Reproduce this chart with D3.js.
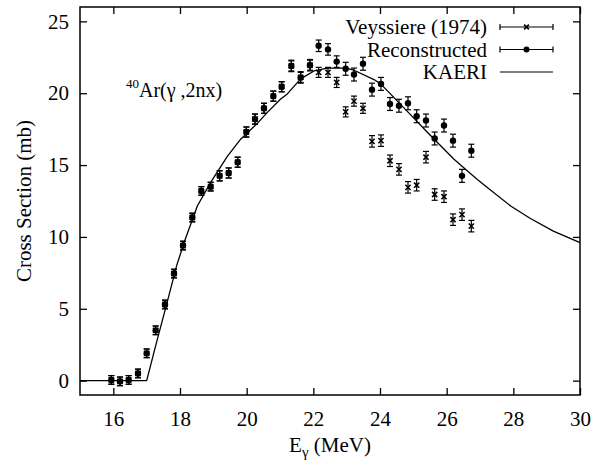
<!DOCTYPE html>
<html><head><meta charset="utf-8">
<script src="https://cdn.jsdelivr.net/npm/d3@7"></script>
<style>
body{margin:0;background:#fff;}
svg{display:block;}
svg text{font-family:"Liberation Serif","Times New Roman","DejaVu Serif",Times,serif !important;fill:#000;}
</style></head>
<body><svg id="c" width="598" height="466"></svg>
<script>
const energies = [15.94, 16.20, 16.46, 16.74, 17.00, 17.27, 17.55, 17.82, 18.09, 18.37, 18.64, 18.92, 19.19, 19.46, 19.73, 19.99, 20.25, 20.52, 20.80, 21.05, 21.34, 21.62, 21.90, 22.16, 22.44, 22.70, 22.97, 23.22, 23.49, 23.76, 24.03, 24.30, 24.57, 24.84, 25.10, 25.38, 25.64, 25.92, 26.19, 26.46, 26.74];
const veyssiere = [0.05, -0.05, 0.05, 0.5, 1.9, 3.5, 5.3, 7.45, 9.4, 11.35, 13.2, 13.5, 14.25, 14.45, 15.2, 17.3, 18.2, 18.95, 19.8, 20.45, 21.9, 21.1, 21.95, 21.45, 21.45, 20.75, 18.7, 19.45, 18.95, 16.65, 16.7, 15.3, 14.7, 13.45, 13.6, 15.55, 12.95, 12.8, 11.2, 11.55, 10.75];
const veyssiereErr = [0.3, 0.3, 0.3, 0.3, 0.3, 0.3, 0.3, 0.3, 0.3, 0.3, 0.3, 0.3, 0.35, 0.35, 0.35, 0.35, 0.35, 0.35, 0.35, 0.35, 0.35, 0.35, 0.35, 0.35, 0.35, 0.35, 0.35, 0.35, 0.35, 0.4, 0.4, 0.4, 0.4, 0.4, 0.4, 0.4, 0.4, 0.4, 0.4, 0.4, 0.4];
const reconstructed = [0.05, -0.05, 0.05, 0.5, 1.9, 3.5, 5.3, 7.45, 9.4, 11.35, 13.2, 13.5, 14.25, 14.45, 15.2, 17.3, 18.2, 18.95, 19.8, 20.45, 21.9, 21.1, 21.95, 23.3, 23.05, 22.2, 21.7, 21.3, 22.05, 20.25, 20.65, 19.25, 19.13, 19.3, 18.4, 18.1, 16.85, 17.75, 16.7, 14.25, 16.0];
const reconstructedErr = [0.3, 0.3, 0.3, 0.3, 0.3, 0.3, 0.3, 0.3, 0.3, 0.3, 0.3, 0.3, 0.35, 0.35, 0.35, 0.35, 0.35, 0.35, 0.35, 0.35, 0.4, 0.4, 0.4, 0.4, 0.4, 0.4, 0.45, 0.45, 0.45, 0.45, 0.45, 0.45, 0.45, 0.45, 0.45, 0.45, 0.45, 0.45, 0.45, 0.45, 0.45];
const kaeriE = [15.0, 17.0, 17.3, 17.62, 17.9, 18.12, 18.52, 18.92, 19.42, 19.82, 20.32, 20.62, 21.02, 21.22, 21.62, 22.02, 22.42, 22.97, 23.22, 23.82, 24.02, 24.5, 25.0, 25.42, 26.22, 26.92, 27.22, 27.92, 28.5, 29.2, 30.0];
const kaeriV = [0, 0, 2.7, 5.5, 8.0, 9.6, 12.15, 13.8, 15.6, 16.8, 17.9, 18.67, 19.6, 19.95, 21.0, 21.55, 21.75, 21.75, 21.6, 20.95, 20.65, 19.5, 18.3, 17.28, 15.4, 14.0, 13.44, 12.15, 11.3, 10.4, 9.6];
const xTicks = [16, 18, 20, 22, 24, 26, 28, 30];
const yTicks = [0, 5, 10, 15, 20, 25];
const legendLabels = ["Veyssiere (1974)", "Reconstructed", "KAERI"];

const svg = d3.select("#c");
const L = 80, R = 580, T = 7, B = 395;
const x = d3.scaleLinear().domain([15, 30]).range([L, R]);
const y = d3.scaleLinear().domain([-1, 26]).range([B, T]);
const FONT = '"Liberation Serif","Times New Roman","DejaVu Serif",serif';
const fs = "21px";

const gx = svg.append("g").attr("transform", `translate(0,${B})`)
  .call(d3.axisBottom(x).tickValues(xTicks).tickSizeInner(-7).tickSizeOuter(0).tickPadding(16).tickFormat(d3.format("d")));
const gy = svg.append("g").attr("transform", `translate(${L},0)`)
  .call(d3.axisLeft(y).tickValues(yTicks).tickSizeInner(-7).tickSizeOuter(0).tickPadding(11).tickFormat(d3.format("d")));
const gxt = svg.append("g").attr("transform", `translate(0,${T})`)
  .call(d3.axisTop(x).tickValues(xTicks).tickSizeInner(-7).tickSizeOuter(0).tickFormat(""));
const gyr = svg.append("g").attr("transform", `translate(${R},0)`)
  .call(d3.axisRight(y).tickValues(yTicks).tickSizeInner(-7).tickSizeOuter(0).tickFormat(""));
[gx, gy, gxt, gyr].forEach(g => {
  g.attr("font-family", FONT).attr("font-size", fs);
  g.select(".domain").remove();
  g.selectAll("line").attr("stroke", "#000").attr("stroke-width", 1.3);
  g.selectAll("text").style("font-family", FONT).style("font-size", fs).attr("fill", "#000");
});
svg.append("rect").attr("x", L).attr("y", T).attr("width", R - L).attr("height", B - T)
  .attr("fill", "none").attr("stroke", "#000").attr("stroke-width", 1.5);

// KAERI line
const kaeri = kaeriE.map((e, i) => [e, kaeriV[i]]);
svg.append("path").datum(kaeri)
  .attr("d", d3.line().x(d => x(d[0])).y(d => y(d[1])))
  .attr("fill", "none").attr("stroke", "#000").attr("stroke-width", 1.3).attr("stroke-linejoin", "round");

function errBars(vals, errs) {
  const g = svg.append("g").attr("stroke", "#000").attr("stroke-width", 1.2);
  energies.forEach((e, i) => {
    const cx = x(e), y1 = y(vals[i] - errs[i]), y2 = y(vals[i] + errs[i]);
    g.append("line").attr("x1", cx).attr("x2", cx).attr("y1", y1).attr("y2", y2);
    g.append("line").attr("x1", cx - 3).attr("x2", cx + 3).attr("y1", y1).attr("y2", y1);
    g.append("line").attr("x1", cx - 3).attr("x2", cx + 3).attr("y1", y2).attr("y2", y2);
  });
}
function xMark(g, cx, cy, s) {
  g.append("path").attr("d", `M${cx - s},${cy - s}L${cx + s},${cy + s}M${cx - s},${cy + s}L${cx + s},${cy - s}`)
    .attr("stroke", "#000").attr("stroke-width", 1.6).attr("fill", "none");
}
errBars(veyssiere, veyssiereErr);
errBars(reconstructed, reconstructedErr);
const gv = svg.append("g");
energies.forEach((e, i) => xMark(gv, x(e), y(veyssiere[i]), 2.6));
svg.append("g").selectAll("circle").data(energies).join("circle")
  .attr("cx", d => x(d)).attr("cy", (d, i) => y(reconstructed[i])).attr("r", 3.2).attr("fill", "#000");

// legend
const lx0 = 500, lx1 = 553, ly = [27, 49.5, 72];
legendLabels.forEach((t, i) => {
  svg.append("text").attr("x", 487).attr("y", ly[i]).attr("dy", "0.35em").attr("text-anchor", "end")
    .style("font-family", FONT).style("font-size", fs).text(t);
  const g = svg.append("g").attr("stroke", "#000").attr("stroke-width", 1.2);
  g.append("line").attr("x1", lx0).attr("x2", lx1).attr("y1", ly[i]).attr("y2", ly[i]);
  if (i < 2) {
    g.append("line").attr("x1", lx0).attr("x2", lx0).attr("y1", ly[i] - 3).attr("y2", ly[i] + 3);
    g.append("line").attr("x1", lx1).attr("x2", lx1).attr("y1", ly[i] - 3).attr("y2", ly[i] + 3);
  }
  const mx = (lx0 + lx1) / 2;
  if (i === 0) xMark(svg, mx, ly[i], 2.4);
  if (i === 1) svg.append("circle").attr("cx", mx).attr("cy", ly[i]).attr("r", 3).attr("fill", "#000");
});

// reaction label
const lab = svg.append("text").attr("x", 126).attr("y", 97).style("font-family", FONT).style("font-size", "20px");
lab.append("tspan").attr("dy", "-9").style("font-size", "13px").text("40");
lab.append("tspan").attr("dy", "9").text("Ar(γ ,2nx)");

// axis titles
svg.append("text").attr("transform", `translate(31,${(T + B) / 2}) rotate(-90)`).attr("text-anchor", "middle")
  .style("font-family", FONT).style("font-size", fs).text("Cross Section (mb)");
const xt = svg.append("text").attr("x", (L + R) / 2).attr("y", 452).attr("text-anchor", "middle")
  .style("font-family", FONT).style("font-size", fs);
xt.append("tspan").text("E");
xt.append("tspan").attr("dy", "5").style("font-size", "15px").text("γ");
xt.append("tspan").attr("dy", "-5").text(" (MeV)");
</script></body></html>
